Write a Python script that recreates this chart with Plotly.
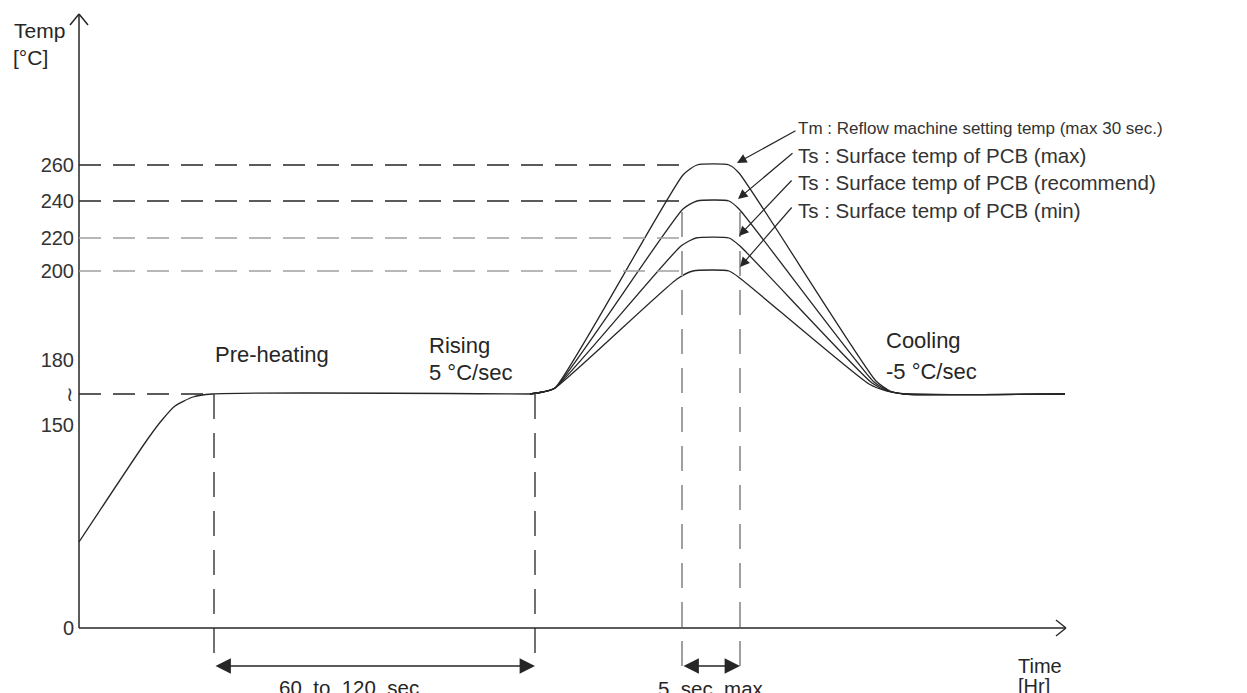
import plotly.graph_objects as go

# ---------------- data (schematic drawing units) ----------------
# y axis: temperature labels and their heights on the (non-linear) schematic axis
temp_labels = ["0", "150", "\u2240", "180", "200", "220", "240", "260"]
temp_levels = [0, 203, 234, 268, 357, 390, 427, 463]

# phase boundaries on the time axis
preheat_start = 135
preheat_end = 456
peak_start = 603
peak_end = 661

# pre-heating ramp + soak plateau
preheat_x = [0, 68, 83, 96, 114, 133, 451]
preheat_y = [86, 188, 208, 222, 231, 234, 234]

# reflow peaks (Tm, Ts max, Ts recommend, Ts min)
peak_names = [
    "Tm : Reflow machine setting temp (max 30 sec.)",
    "Ts : Surface temp of PCB (max)",
    "Ts : Surface temp of PCB (recommend)",
    "Ts : Surface temp of PCB (min)",
]
peak_x = [
    [451, 464, 476, 604, 618, 650, 660, 797, 811, 826, 986],
    [451, 464, 476, 604, 618, 650, 660, 795, 810, 826, 986],
    [451, 464, 476, 602, 617, 650, 661, 793, 809, 826, 986],
    [451, 464, 476, 598, 614, 650, 662, 790, 808, 826, 986],
]
peak_y = [
    [234, 236, 240, 453, 463, 463, 455, 247, 237, 234, 234],
    [234, 236, 240, 419, 427, 427, 419, 246, 237, 234, 234],
    [234, 236, 240, 382, 390, 390, 382, 245, 237, 234, 234],
    [234, 236, 240, 349, 357, 357, 349, 244, 237, 234, 234],
]
label_y = [500, 473, 446, 418]
label_size = [17, 20.5, 20.5, 20.5]

DARK = "#262626"
GRAY = "#a0a0a0"
FONT = "Liberation Sans, Arial, sans-serif"
FS = 20
FIG_W, FIG_H = 1247, 693
X0, Y0 = 71, 620          # figure-pixel position of the axes origin / top reference

fig = go.Figure()

fig.add_trace(go.Scatter(x=preheat_x, y=preheat_y, mode="lines",
                         line=dict(color=DARK, width=1.3, shape="spline", smoothing=0.6),
                         hoverinfo="skip"))
for px_, py_ in zip(peak_x, peak_y):
    fig.add_trace(go.Scatter(x=px_, y=py_, mode="lines",
                             line=dict(color=DARK, width=1.3, shape="spline", smoothing=0.55),
                             hoverinfo="skip"))

shapes = []
AX = dict(color=DARK, width=1.5)
# axes with open arrow heads
shapes.append(dict(type="line", x0=0, y0=0, x1=0, y1=614, line=AX))
shapes.append(dict(type="line", x0=-9, y0=603, x1=0, y1=614, line=AX))
shapes.append(dict(type="line", x0=9, y0=603, x1=0, y1=614, line=AX))
shapes.append(dict(type="line", x0=0, y0=0, x1=987, y1=0, line=AX))
shapes.append(dict(type="line", x0=977, y0=8, x1=987, y1=0, line=AX))
shapes.append(dict(type="line", x0=977, y0=-8, x1=987, y1=0, line=AX))

# horizontal guide lines
shapes.append(dict(type="line", x0=0, y0=234, x1=preheat_start, y1=234,
                   line=dict(color=DARK, width=1.3, dash="22px,12px")))
for lev, col in zip(temp_levels[4:], [GRAY, GRAY, DARK, DARK]):
    shapes.append(dict(type="line", x0=0, y0=lev, x1=604, y1=lev,
                       line=dict(color=col, width=1.5, dash="22px,12px")))

# vertical guide lines
for xv in (preheat_start, preheat_end):
    shapes.append(dict(type="line", x0=xv, y0=234, x1=xv, y1=-38,
                       line=dict(color=DARK, width=1.3, dash="25px,14px")))
for xv in (peak_start, peak_end):
    shapes.append(dict(type="line", x0=xv, y0=416, x1=xv, y1=-38,
                       line=dict(color=GRAY, width=2, dash="25px,14px")))

annotations = []
# axis titles
annotations.append(dict(x=-67, y=598, text="Temp", showarrow=False, xanchor="left",
                        font=dict(family=FONT, size=21, color=DARK)))
annotations.append(dict(x=-68, y=571, text="[\u00b0C]", showarrow=False, xanchor="left",
                        font=dict(family=FONT, size=21, color=DARK)))
annotations.append(dict(x=937, y=-38, text="Time", showarrow=False, xanchor="left",
                        font=dict(family=FONT, size=FS, color=DARK)))
annotations.append(dict(x=937, y=-58, text="[Hr]", showarrow=False, xanchor="left",
                        font=dict(family=FONT, size=FS, color=DARK)))

# double arrows
for a, b in ((preheat_start, preheat_end), (peak_start, peak_end)):
    annotations.append(dict(x=b, y=-38, ax=a, ay=-38, axref="x", ayref="y", xref="x", yref="y",
                            text="", showarrow=True, arrowside="end+start",
                            arrowhead=2, startarrowhead=2, arrowsize=2.2, startarrowsize=2.2,
                            arrowwidth=1.4, arrowcolor=DARK, standoff=0, startstandoff=0))
nb = "\u00a0"
annotations.append(dict(x=(preheat_start + preheat_end) / 2 - 26, y=-59,
                        text=f"60{nb}{nb}to{nb}{nb}120{nb}{nb}sec", showarrow=False,
                        font=dict(family=FONT, size=20.5, color=DARK)))
annotations.append(dict(x=(peak_start + peak_end) / 2, y=-60,
                        text=f"5{nb}{nb}sec{nb}{nb}max", showarrow=False,
                        font=dict(family=FONT, size=20.5, color=DARK)))

# phase labels
for x, y, t in ((134, 274, "Pre-heating"), (348, 283, "Rising"), (348, 256, "5 \u00b0C/sec"),
                (805, 288, "Cooling"), (805, 257, "-5 \u00b0C/sec")):
    annotations.append(dict(x=x, y=y, text=t, showarrow=False, xanchor="left",
                            font=dict(family=FONT, size=22, color=DARK)))

# peak pointers and labels
heads = [(658, 465), (659, 429), (660, 392), (661, 361)]
tails = [(718, 498), (715, 476), (714, 449), (714, 422)]
for (hx, hy), (tx, ty), name, ly, fs in zip(heads, tails, peak_names, label_y, label_size):
    annotations.append(dict(x=hx, y=hy, ax=tx, ay=ty, axref="x", ayref="y", xref="x", yref="y",
                            text="", showarrow=True, arrowhead=2, arrowsize=1.6, arrowwidth=1.2,
                            arrowcolor=DARK, standoff=0))
    annotations.append(dict(x=717, y=ly, text=name, showarrow=False, xanchor="left",
                            font=dict(family=FONT, size=fs, color="#333333")))

fig.update_layout(
    width=FIG_W, height=FIG_H,
    margin=dict(l=0, r=0, t=0, b=0),
    paper_bgcolor="white", plot_bgcolor="white",
    showlegend=False, hovermode=False,
    shapes=shapes, annotations=annotations,
    xaxis=dict(range=[-X0, FIG_W - X0], visible=False, fixedrange=True),
    yaxis=dict(range=[Y0 - FIG_H, Y0], tickvals=temp_levels, ticktext=temp_labels,
               anchor="free", position=X0 / FIG_W, side="left",
               showgrid=False, zeroline=False, showline=False, ticks="",
               ticklabelstandoff=5, fixedrange=True,
               tickfont=dict(family=FONT, size=FS, color="#333333")),
)

fig.write_html("out.html")
